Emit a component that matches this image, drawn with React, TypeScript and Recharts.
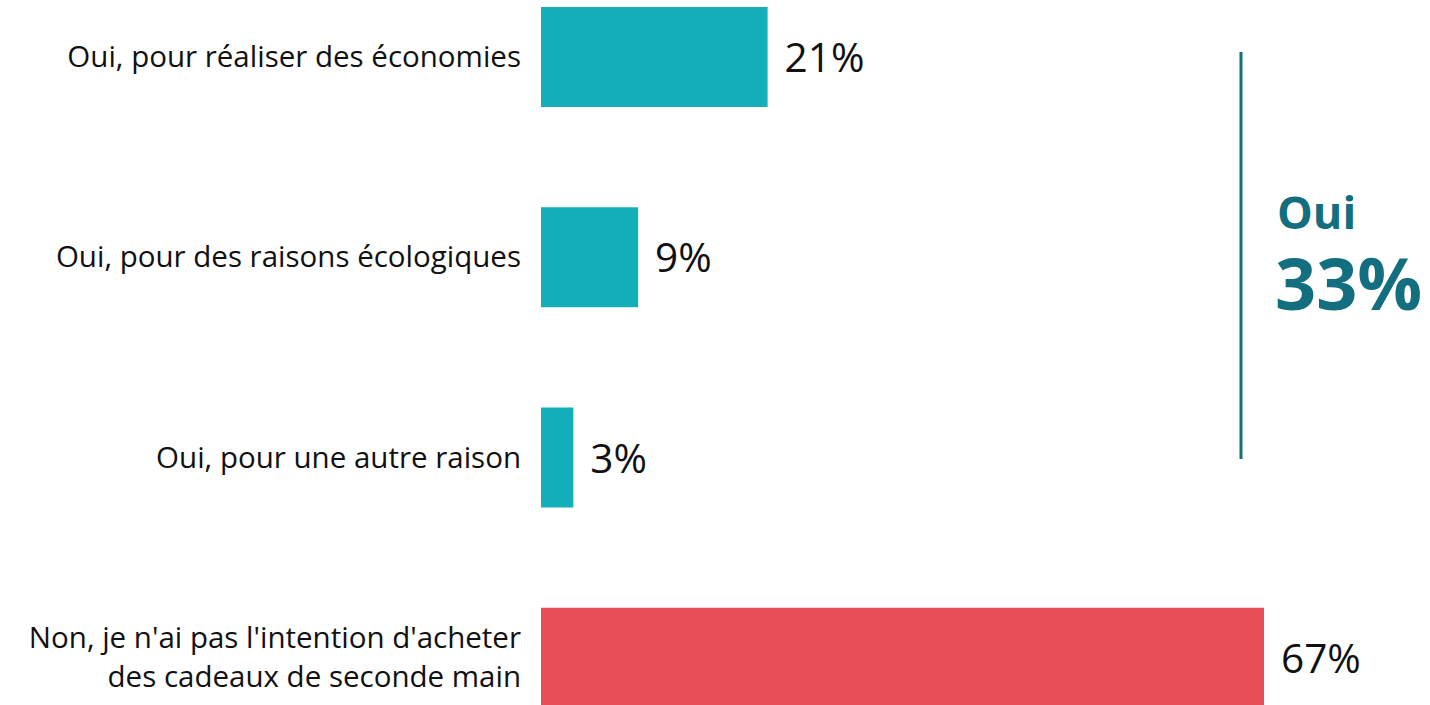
import React from 'react';
import { BarChart, Bar, XAxis, YAxis, Cell, LabelList } from 'recharts';

const categories = [
  "Oui, pour réaliser des économies",
  "Oui, pour des raisons écologiques",
  "Oui, pour une autre raison",
  "Non, je n'ai pas l'intention d'acheter\ndes cadeaux de seconde main",
];
const values = [21, 9, 3, 67];
const barColors = ['#14AFB8', '#14AFB8', '#14AFB8', '#E64F57'];
const totalLabel = 'Oui';
const totalValue = '33%';

const data = categories.map((name, i) => ({ name, value: values[i] }));

const FONT = '"Open Sans", sans-serif';

const CategoryTick = (props: any) => {
  const { x, y, payload } = props;
  const lines = String(payload.value).split('\n');
  const lh = 39;
  const start = -((lines.length - 1) * lh) / 2;
  return (
    <text x={x + 6} y={y} textAnchor="end" fontFamily={FONT} fontSize={29.5} fill="#111">
      {lines.map((l, i) => (
        <tspan key={i} x={x + 6} dy={i === 0 ? start + 10 : lh}>{l}</tspan>
      ))}
    </text>
  );
};

const ValueLabel = (props: any) => {
  const { x, y, width, height, value } = props;
  return (
    <text x={x + width + 17} y={y + height / 2 + 15} fontFamily={FONT} fontSize={40.5} fill="#111">
      {value}%
    </text>
  );
};

export default function App() {
  return (
    <div style={{ position: 'absolute', left: 0, top: 0, width: 1430, height: 705, overflow: 'hidden', background: '#fff' }}>
      <div style={{ position: 'absolute', left: 0, top: -43 }}>
        <BarChart
          width={1430}
          height={801}
          data={data}
          layout="vertical"
          margin={{ top: 0, right: 166, bottom: 0, left: 0 }}
        >
          <XAxis type="number" hide domain={[0, Math.max(...values)]} />
          <YAxis
            type="category"
            dataKey="name"
            width={541}
            axisLine={false}
            tickLine={false}
            tickMargin={20}
            tick={<CategoryTick />}
            interval={0}
          />
          <Bar dataKey="value" barSize={100} isAnimationActive={false}>
            {data.map((d, i) => (
              <Cell key={d.name} fill={barColors[i]} />
            ))}
            <LabelList dataKey="value" content={<ValueLabel />} />
          </Bar>
        </BarChart>
      </div>
      <svg width={1430} height={705} style={{ position: 'absolute', left: 0, top: 0, pointerEvents: 'none' }}>
        <line x1={1241} y1={52} x2={1241} y2={459} stroke="#136E80" strokeWidth={3} />
        <text x={1277} y={229} fontFamily={FONT} fontWeight={700} fontSize={45} fill="#136E80">{totalLabel}</text>
        <text x={1275} y={310} fontFamily={FONT} fontWeight={700} fontSize={72} fill="#136E80">{totalValue}</text>
      </svg>
    </div>
  );
}
